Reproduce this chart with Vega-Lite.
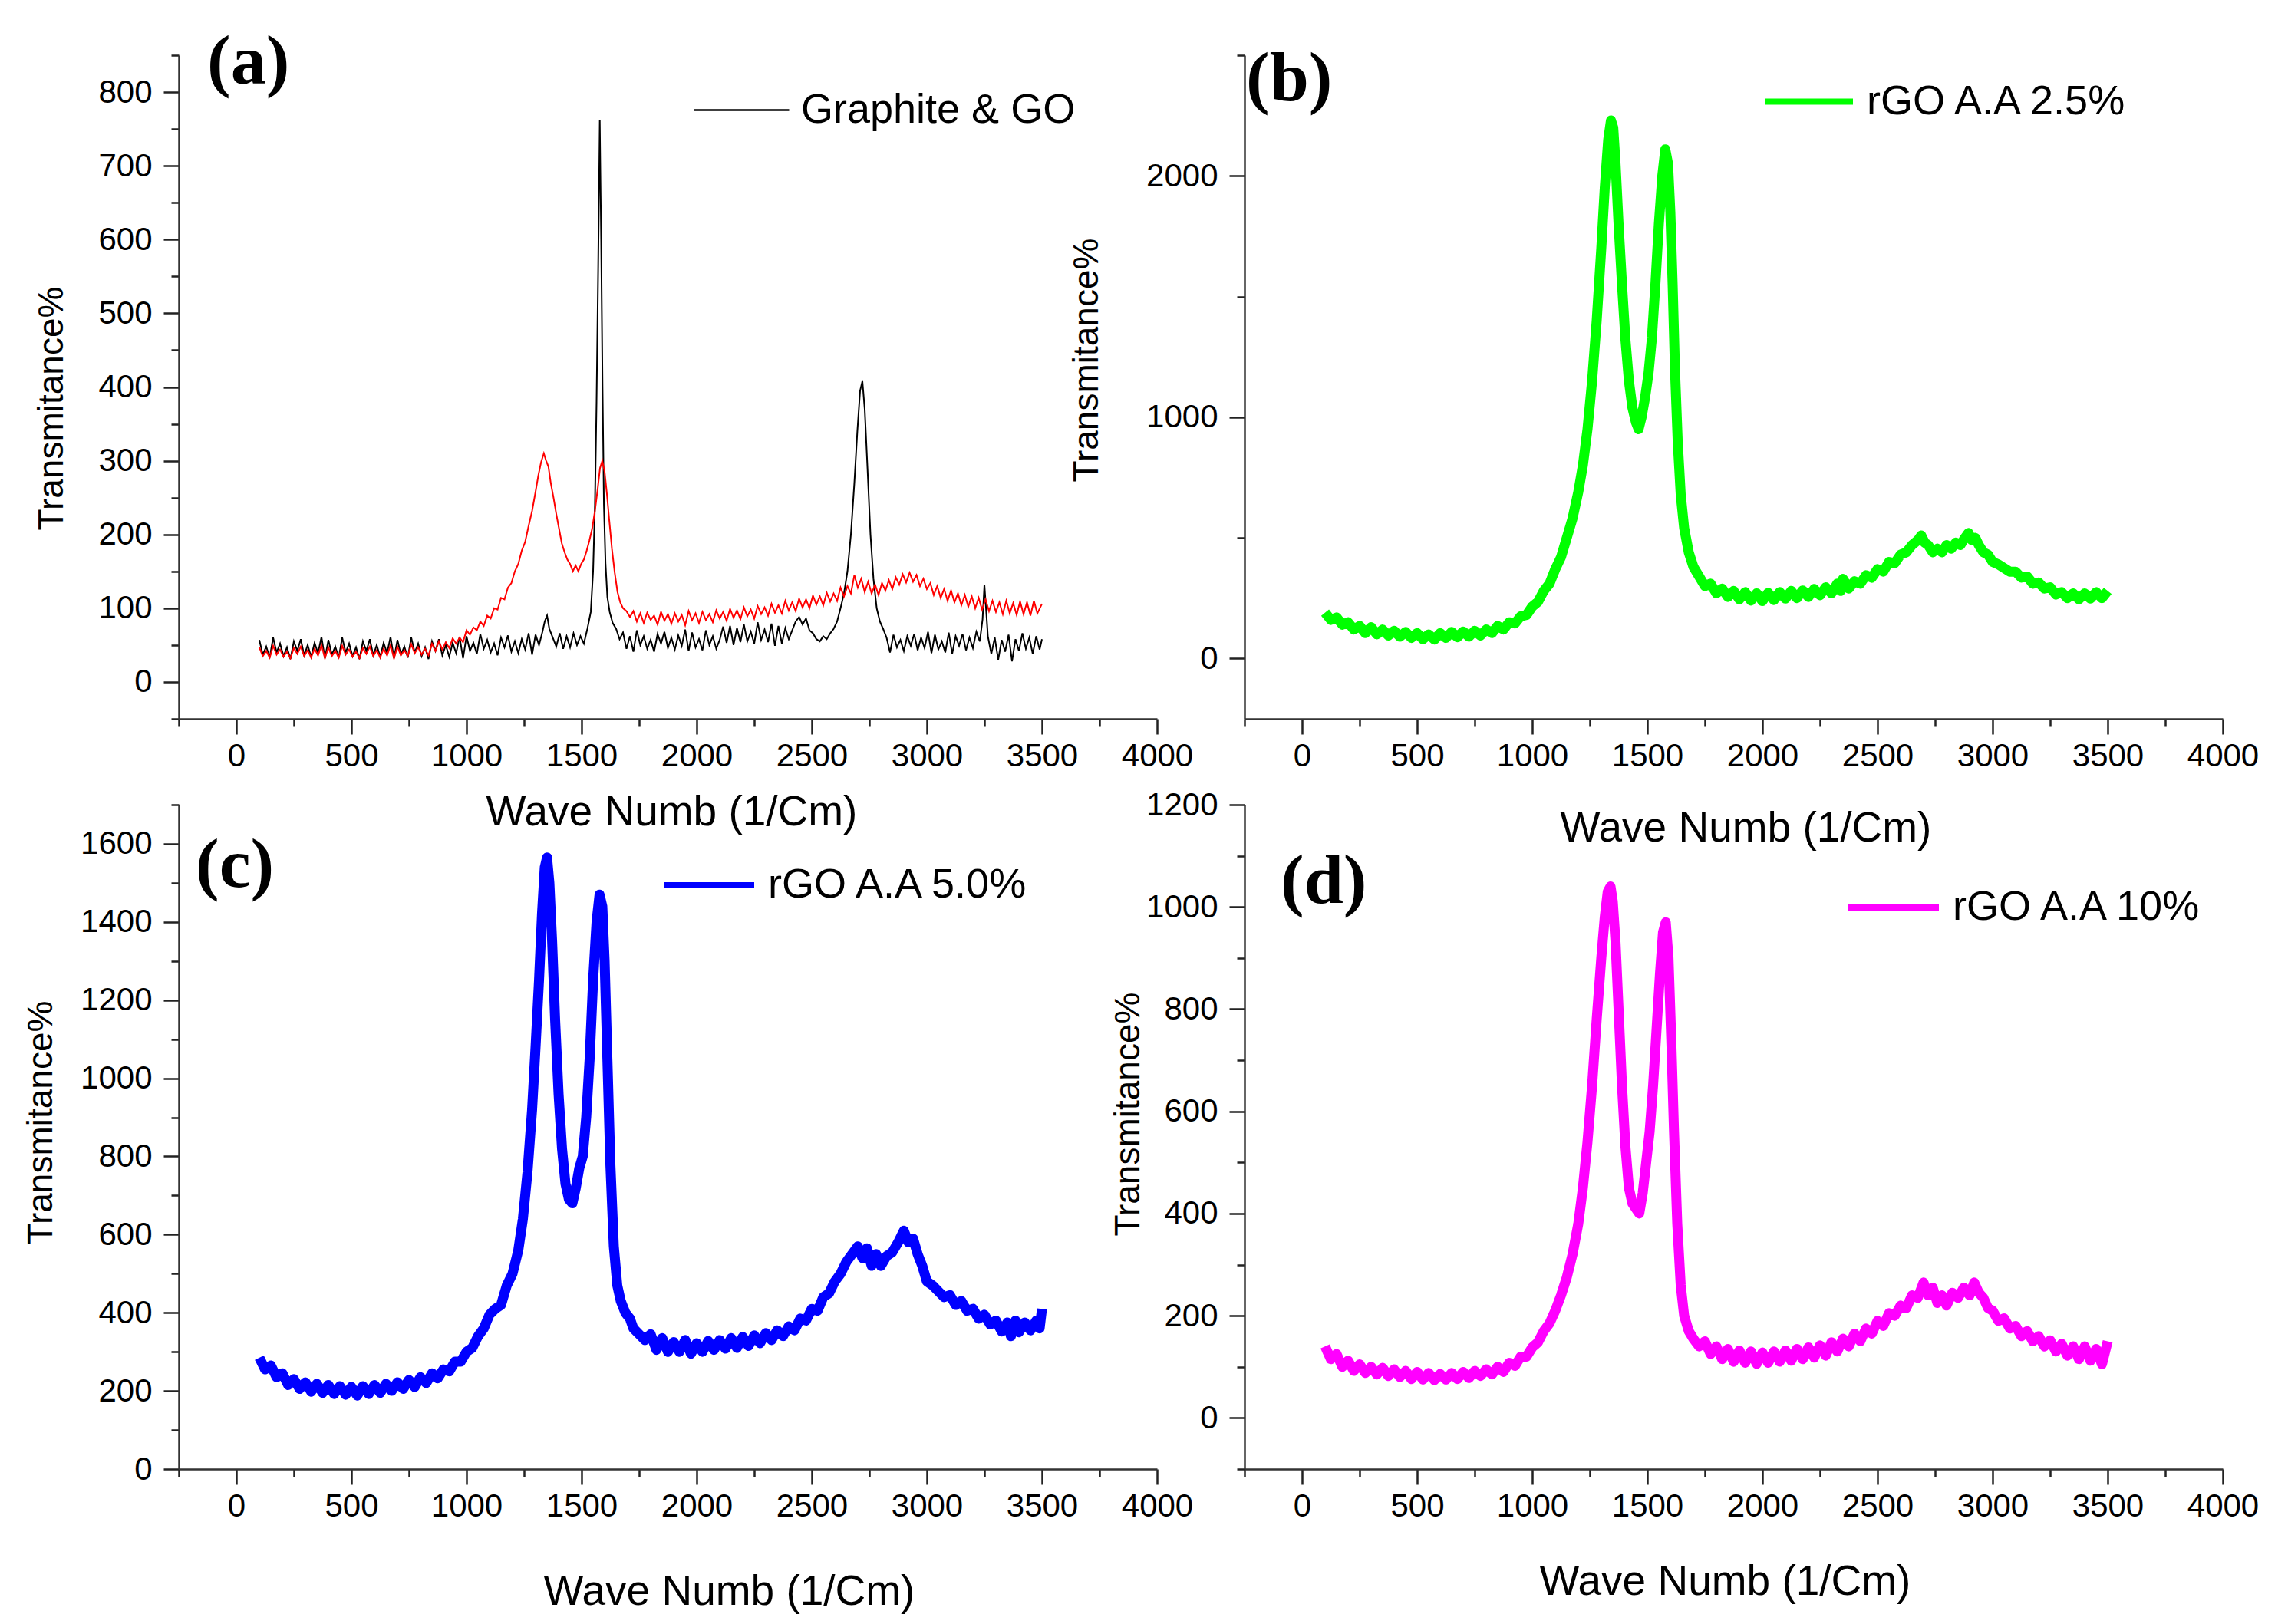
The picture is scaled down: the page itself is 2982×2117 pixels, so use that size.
{
  "$schema": "https://vega.github.io/schema/vega-lite/v6.json",
  "background": "white",
  "padding": {"left": 30, "top": 35, "right": 10, "bottom": 10},
  "config": {
    "font": "Liberation Sans",
    "view": {"stroke": null},
    "axis": {
      "grid": false,
      "domainColor": "#333333",
      "domainWidth": 2.5,
      "tickColor": "#222222",
      "tickWidth": 2.5,
      "labelFont": "Liberation Sans",
      "labelFontSize": 42,
      "labelColor": "black",
      "labelOverlap": false,
      "labelFlush": false,
      "format": "d",
      "titleFont": "Liberation Sans",
      "titleFontWeight": "normal",
      "titleColor": "black",
      "titleAlign": "center",
      "titleBaseline": "middle"
    },
    "axisX": {"labelPadding": 8, "titleFontSize": 55},
    "axisY": {"labelPadding": 15, "titleFontSize": 46, "titleAngle": 270},
    "legend": {
      "orient": "none",
      "symbolType": "stroke",
      "labelFont": "Liberation Sans",
      "labelFontSize": 54,
      "labelColor": "black",
      "labelOffset": 14,
      "labelLimit": 0,
      "padding": 0,
      "title": null
    },
    "title": {
      "font": "Liberation Serif",
      "fontWeight": "bold",
      "fontSize": 92,
      "color": "black",
      "anchor": "start",
      "frame": "group",
      "baseline": "alphabetic",
      "orient": "top"
    }
  },
  "datasets": {
    "graphite": [
      {"x":100,"y":57},{"x":115,"y":37},{"x":130,"y":48},{"x":145,"y":33},{"x":160,"y":60},{"x":175,"y":40},{"x":190,"y":52},{"x":205,"y":35},{"x":220,"y":47},{"x":235,"y":31},{"x":250,"y":55},{"x":265,"y":42},{"x":280,"y":58},{"x":295,"y":36},{"x":310,"y":50},{"x":325,"y":34},{"x":340,"y":53},{"x":355,"y":39},{"x":370,"y":61},{"x":385,"y":32},
      {"x":400,"y":57},{"x":415,"y":37},{"x":430,"y":48},{"x":445,"y":33},{"x":460,"y":60},{"x":475,"y":40},{"x":490,"y":52},{"x":505,"y":35},{"x":520,"y":47},{"x":535,"y":31},{"x":550,"y":55},{"x":565,"y":42},{"x":580,"y":58},{"x":595,"y":36},{"x":610,"y":50},{"x":625,"y":34},{"x":640,"y":53},{"x":655,"y":39},{"x":670,"y":61},{"x":685,"y":32},
      {"x":700,"y":57},{"x":715,"y":37},{"x":730,"y":48},{"x":745,"y":33},{"x":760,"y":60},{"x":775,"y":40},{"x":790,"y":52},{"x":805,"y":35},{"x":820,"y":47},{"x":835,"y":31},{"x":850,"y":55},{"x":865,"y":42},{"x":880,"y":58},{"x":895,"y":36},{"x":910,"y":50},{"x":925,"y":34},{"x":940,"y":53},{"x":955,"y":39},{"x":970,"y":61},{"x":985,"y":32},
      {"x":1000,"y":62},{"x":1015,"y":42},{"x":1030,"y":53},{"x":1045,"y":38},{"x":1060,"y":65},{"x":1075,"y":45},{"x":1090,"y":57},{"x":1105,"y":40},{"x":1120,"y":52},{"x":1135,"y":36},{"x":1150,"y":60},{"x":1165,"y":47},{"x":1180,"y":63},{"x":1195,"y":41},{"x":1210,"y":55},{"x":1225,"y":39},{"x":1240,"y":58},{"x":1255,"y":44},{"x":1270,"y":66},{"x":1285,"y":37},
      {"x":1300,"y":64},{"x":1315,"y":50},{"x":1330,"y":68},{"x":1340,"y":82},{"x":1350,"y":90},{"x":1360,"y":72},{"x":1375,"y":60},{"x":1390,"y":48},{"x":1405,"y":66},{"x":1420,"y":45},{"x":1435,"y":62},{"x":1450,"y":47},{"x":1465,"y":66},{"x":1480,"y":50},{"x":1495,"y":62},{"x":1510,"y":52},{"x":1525,"y":72},{"x":1540,"y":95},{"x":1550,"y":150},{"x":1558,"y":240},
      {"x":1565,"y":380},{"x":1572,"y":560},{"x":1579,"y":762},{"x":1585,"y":600},{"x":1591,"y":400},{"x":1597,"y":240},{"x":1604,"y":160},{"x":1612,"y":115},{"x":1622,"y":95},{"x":1635,"y":80},{"x":1650,"y":72},{"x":1665,"y":58},{"x":1680,"y":67},{"x":1695,"y":45},{"x":1710,"y":62},{"x":1725,"y":41},{"x":1740,"y":70},{"x":1755,"y":50},{"x":1770,"y":62},{"x":1785,"y":45},
      {"x":1800,"y":57},{"x":1815,"y":41},{"x":1830,"y":65},{"x":1845,"y":52},{"x":1860,"y":68},{"x":1875,"y":46},{"x":1890,"y":60},{"x":1905,"y":44},{"x":1920,"y":63},{"x":1935,"y":49},{"x":1950,"y":71},{"x":1965,"y":42},{"x":1980,"y":67},{"x":1995,"y":47},{"x":2010,"y":58},{"x":2025,"y":43},{"x":2040,"y":70},{"x":2055,"y":50},{"x":2070,"y":62},{"x":2085,"y":45},
      {"x":2100,"y":57},{"x":2115,"y":75},{"x":2130,"y":53},{"x":2145,"y":76},{"x":2160,"y":50},{"x":2175,"y":73},{"x":2190,"y":54},{"x":2205,"y":78},{"x":2220,"y":55},{"x":2235,"y":68},{"x":2250,"y":52},{"x":2265,"y":81},{"x":2280,"y":57},{"x":2295,"y":71},{"x":2310,"y":54},{"x":2325,"y":79},{"x":2340,"y":49},{"x":2355,"y":76},{"x":2370,"y":52},{"x":2385,"y":73},
      {"x":2400,"y":58},{"x":2415,"y":70},{"x":2430,"y":82},{"x":2445,"y":88},{"x":2460,"y":78},{"x":2475,"y":86},{"x":2490,"y":70},{"x":2505,"y":66},{"x":2520,"y":58},{"x":2535,"y":55},{"x":2550,"y":62},{"x":2565,"y":58},{"x":2580,"y":66},{"x":2595,"y":72},{"x":2610,"y":82},{"x":2625,"y":100},{"x":2640,"y":120},{"x":2655,"y":150},{"x":2670,"y":200},{"x":2685,"y":270},
      {"x":2698,"y":340},{"x":2710,"y":395},{"x":2720,"y":408},{"x":2730,"y":370},{"x":2742,"y":290},{"x":2755,"y":200},{"x":2768,"y":140},{"x":2782,"y":100},{"x":2796,"y":82},{"x":2810,"y":72},{"x":2825,"y":60},{"x":2840,"y":40},{"x":2855,"y":64},{"x":2870,"y":47},{"x":2885,"y":57},{"x":2900,"y":42},{"x":2915,"y":62},{"x":2930,"y":49},{"x":2945,"y":65},{"x":2960,"y":43},
      {"x":2975,"y":60},{"x":2990,"y":46},{"x":3005,"y":68},{"x":3020,"y":39},{"x":3035,"y":64},{"x":3050,"y":44},{"x":3065,"y":55},{"x":3080,"y":40},{"x":3095,"y":67},{"x":3110,"y":38},{"x":3125,"y":62},{"x":3140,"y":49},{"x":3155,"y":65},{"x":3170,"y":43},{"x":3185,"y":60},{"x":3200,"y":46},{"x":3215,"y":68},{"x":3230,"y":55},{"x":3242,"y":85},{"x":3250,"y":132},
      {"x":3257,"y":100},{"x":3265,"y":62},{"x":3280,"y":38},{"x":3295,"y":60},{"x":3310,"y":30},{"x":3325,"y":57},{"x":3340,"y":41},{"x":3355,"y":64},{"x":3370,"y":28},{"x":3385,"y":58},{"x":3400,"y":42},{"x":3415,"y":66},{"x":3430,"y":45},{"x":3445,"y":60},{"x":3460,"y":38},{"x":3475,"y":62},{"x":3490,"y":44},{"x":3500,"y":58}
    ],
    "go": [
      {"x":100,"y":47},{"x":115,"y":35},{"x":130,"y":42},{"x":145,"y":33},{"x":160,"y":49},{"x":175,"y":37},{"x":190,"y":44},{"x":205,"y":34},{"x":220,"y":41},{"x":235,"y":32},{"x":250,"y":46},{"x":265,"y":38},{"x":280,"y":48},{"x":295,"y":35},{"x":310,"y":43},{"x":325,"y":33},{"x":340,"y":45},{"x":355,"y":36},{"x":370,"y":50},{"x":385,"y":32},
      {"x":400,"y":47},{"x":415,"y":35},{"x":430,"y":42},{"x":445,"y":33},{"x":460,"y":49},{"x":475,"y":37},{"x":490,"y":44},{"x":505,"y":34},{"x":520,"y":41},{"x":535,"y":32},{"x":550,"y":46},{"x":565,"y":38},{"x":580,"y":48},{"x":595,"y":35},{"x":610,"y":43},{"x":625,"y":33},{"x":640,"y":45},{"x":655,"y":36},{"x":670,"y":50},{"x":685,"y":32},
      {"x":700,"y":48},{"x":715,"y":36},{"x":730,"y":43},{"x":745,"y":35},{"x":760,"y":51},{"x":775,"y":39},{"x":790,"y":47},{"x":805,"y":37},{"x":820,"y":45},{"x":835,"y":36},{"x":850,"y":52},{"x":865,"y":42},{"x":880,"y":55},{"x":895,"y":44},{"x":910,"y":54},{"x":925,"y":46},{"x":940,"y":59},{"x":955,"y":52},{"x":970,"y":60},{"x":985,"y":54},
      {"x":1000,"y":70},{"x":1015,"y":64},{"x":1030,"y":74},{"x":1045,"y":70},{"x":1060,"y":82},{"x":1075,"y":76},{"x":1090,"y":90},{"x":1105,"y":86},{"x":1120,"y":100},{"x":1135,"y":98},{"x":1150,"y":114},{"x":1165,"y":112},{"x":1180,"y":128},{"x":1195,"y":134},{"x":1210,"y":150},{"x":1225,"y":160},{"x":1240,"y":178},{"x":1255,"y":190},{"x":1270,"y":212},{"x":1285,"y":232},
      {"x":1300,"y":258},{"x":1312,"y":280},{"x":1324,"y":298},{"x":1336,"y":310},{"x":1346,"y":300},{"x":1356,"y":292},{"x":1366,"y":270},{"x":1378,"y":250},{"x":1390,"y":228},{"x":1402,"y":208},{"x":1414,"y":188},{"x":1426,"y":176},{"x":1438,"y":166},{"x":1450,"y":160},{"x":1462,"y":150},{"x":1474,"y":158},{"x":1486,"y":150},{"x":1498,"y":160},{"x":1510,"y":166},{"x":1522,"y":178},
      {"x":1534,"y":192},{"x":1546,"y":208},{"x":1558,"y":232},{"x":1570,"y":262},{"x":1580,"y":290},{"x":1590,"y":300},{"x":1600,"y":285},{"x":1610,"y":255},{"x":1620,"y":220},{"x":1632,"y":180},{"x":1644,"y":148},{"x":1656,"y":122},{"x":1668,"y":108},{"x":1680,"y":100},{"x":1695,"y":96},{"x":1710,"y":88},{"x":1725,"y":96},{"x":1740,"y":82},{"x":1755,"y":93},{"x":1770,"y":80},
      {"x":1785,"y":94},{"x":1800,"y":84},{"x":1815,"y":90},{"x":1830,"y":78},{"x":1845,"y":95},{"x":1860,"y":83},{"x":1875,"y":92},{"x":1890,"y":79},{"x":1905,"y":93},{"x":1920,"y":82},{"x":1935,"y":91},{"x":1950,"y":77},{"x":1965,"y":96},{"x":1980,"y":84},{"x":1995,"y":93},{"x":2010,"y":80},{"x":2025,"y":95},{"x":2040,"y":84},{"x":2055,"y":92},{"x":2070,"y":81},
      {"x":2085,"y":97},{"x":2100,"y":86},{"x":2115,"y":95},{"x":2130,"y":83},{"x":2145,"y":99},{"x":2160,"y":87},{"x":2175,"y":97},{"x":2190,"y":85},{"x":2205,"y":101},{"x":2220,"y":89},{"x":2235,"y":98},{"x":2250,"y":86},{"x":2265,"y":103},{"x":2280,"y":92},{"x":2295,"y":101},{"x":2310,"y":90},{"x":2325,"y":106},{"x":2340,"y":94},{"x":2355,"y":104},{"x":2370,"y":93},
      {"x":2385,"y":110},{"x":2400,"y":97},{"x":2415,"y":108},{"x":2430,"y":96},{"x":2445,"y":113},{"x":2460,"y":101},{"x":2475,"y":112},{"x":2490,"y":100},{"x":2505,"y":117},{"x":2520,"y":105},{"x":2535,"y":116},{"x":2550,"y":104},{"x":2565,"y":121},{"x":2580,"y":109},{"x":2595,"y":120},{"x":2610,"y":110},{"x":2625,"y":128},{"x":2640,"y":116},{"x":2655,"y":130},{"x":2670,"y":120},
      {"x":2685,"y":145},{"x":2700,"y":128},{"x":2715,"y":140},{"x":2730,"y":122},{"x":2745,"y":136},{"x":2760,"y":120},{"x":2775,"y":132},{"x":2790,"y":118},{"x":2805,"y":134},{"x":2820,"y":124},{"x":2835,"y":138},{"x":2850,"y":126},{"x":2865,"y":142},{"x":2880,"y":132},{"x":2895,"y":146},{"x":2910,"y":135},{"x":2925,"y":148},{"x":2940,"y":136},{"x":2955,"y":145},{"x":2970,"y":130},
      {"x":2985,"y":140},{"x":3000,"y":126},{"x":3015,"y":134},{"x":3030,"y":118},{"x":3045,"y":130},{"x":3060,"y":114},{"x":3075,"y":126},{"x":3090,"y":110},{"x":3105,"y":124},{"x":3120,"y":108},{"x":3135,"y":120},{"x":3150,"y":104},{"x":3165,"y":118},{"x":3180,"y":102},{"x":3195,"y":116},{"x":3210,"y":100},{"x":3225,"y":114},{"x":3240,"y":98},{"x":3255,"y":112},{"x":3270,"y":96},
      {"x":3285,"y":110},{"x":3300,"y":95},{"x":3315,"y":108},{"x":3330,"y":92},{"x":3345,"y":110},{"x":3360,"y":93},{"x":3375,"y":107},{"x":3390,"y":91},{"x":3405,"y":109},{"x":3420,"y":92},{"x":3435,"y":108},{"x":3450,"y":90},{"x":3465,"y":110},{"x":3480,"y":93},{"x":3500,"y":106}
    ],
    "rgo25": [
      {"x":100,"y":190},{"x":125,"y":160},{"x":150,"y":170},{"x":175,"y":140},{"x":200,"y":150},{"x":225,"y":120},{"x":250,"y":135},{"x":275,"y":105},{"x":300,"y":130},{"x":325,"y":100},{"x":350,"y":120},{"x":375,"y":95},{"x":400,"y":115},{"x":425,"y":90},{"x":450,"y":110},{"x":475,"y":85},{"x":500,"y":105},{"x":525,"y":80},{"x":550,"y":100},{"x":575,"y":78},{"x":600,"y":105},{"x":625,"y":85},{"x":650,"y":110},{"x":675,"y":88},{"x":700,"y":112},{"x":725,"y":90},{"x":750,"y":115},{"x":775,"y":95},{"x":800,"y":120},{"x":825,"y":105},{"x":850,"y":135},{"x":875,"y":120},{"x":900,"y":150},{"x":925,"y":145},{"x":950,"y":175},{"x":975,"y":180},{"x":1000,"y":215},{"x":1025,"y":235},{"x":1050,"y":280},{"x":1075,"y":310},{"x":1100,"y":370},{"x":1125,"y":420},{"x":1150,"y":500},{"x":1175,"y":580},{"x":1200,"y":690},{"x":1220,"y":800},{"x":1240,"y":950},{"x":1260,"y":1150},{"x":1280,"y":1400},{"x":1300,"y":1700},{"x":1315,"y":1950},{"x":1330,"y":2150},{"x":1342,"y":2230},{"x":1352,"y":2200},{"x":1362,"y":2050},{"x":1375,"y":1800},{"x":1390,"y":1550},{"x":1405,"y":1320},{"x":1420,"y":1150},{"x":1435,"y":1040},{"x":1450,"y":980},{"x":1462,"y":950},{"x":1475,"y":1000},{"x":1490,"y":1080},{"x":1505,"y":1180},{"x":1520,"y":1330},{"x":1535,"y":1550},{"x":1550,"y":1800},{"x":1565,"y":2000},{"x":1578,"y":2110},{"x":1590,"y":2050},{"x":1600,"y":1850},{"x":1610,"y":1550},{"x":1620,"y":1200},{"x":1632,"y":900},{"x":1645,"y":680},{"x":1660,"y":540},{"x":1680,"y":440},{"x":1700,"y":380},{"x":1725,"y":340},{"x":1750,"y":300},{"x":1775,"y":310},{"x":1800,"y":270},{"x":1825,"y":290},{"x":1850,"y":255},{"x":1875,"y":280},{"x":1900,"y":245},{"x":1925,"y":275},{"x":1950,"y":240},{"x":1975,"y":270},{"x":2000,"y":238},{"x":2025,"y":272},{"x":2050,"y":242},{"x":2075,"y":275},{"x":2100,"y":248},{"x":2125,"y":280},{"x":2150,"y":250},{"x":2175,"y":282},{"x":2200,"y":255},{"x":2225,"y":288},{"x":2250,"y":262},{"x":2275,"y":295},{"x":2300,"y":270},{"x":2325,"y":310},{"x":2340,"y":280},{"x":2350,"y":330},{"x":2375,"y":290},{"x":2400,"y":320},{"x":2425,"y":310},{"x":2450,"y":345},{"x":2475,"y":335},{"x":2500,"y":370},{"x":2525,"y":360},{"x":2550,"y":400},{"x":2575,"y":395},{"x":2600,"y":430},{"x":2625,"y":440},{"x":2650,"y":470},{"x":2675,"y":490},{"x":2690,"y":510},{"x":2705,"y":480},{"x":2720,"y":470},{"x":2740,"y":440},{"x":2760,"y":455},{"x":2780,"y":440},{"x":2800,"y":470},{"x":2820,"y":455},{"x":2840,"y":480},{"x":2860,"y":470},{"x":2880,"y":500},{"x":2895,"y":520},{"x":2910,"y":490},{"x":2925,"y":500},{"x":2940,"y":470},{"x":2960,"y":440},{"x":2980,"y":430},{"x":3000,"y":400},{"x":3025,"y":390},{"x":3050,"y":375},{"x":3075,"y":360},{"x":3100,"y":360},{"x":3125,"y":335},{"x":3150,"y":340},{"x":3175,"y":310},{"x":3200,"y":315},{"x":3225,"y":290},{"x":3250,"y":295},{"x":3275,"y":265},{"x":3300,"y":275},{"x":3325,"y":250},{"x":3350,"y":270},{"x":3375,"y":245},{"x":3400,"y":270},{"x":3425,"y":248},{"x":3450,"y":275},{"x":3475,"y":250},{"x":3500,"y":280}
    ],
    "rgo50": [
      {"x":100,"y":285},{"x":125,"y":255},{"x":150,"y":265},{"x":175,"y":235},{"x":200,"y":245},{"x":225,"y":215},{"x":250,"y":230},{"x":275,"y":205},{"x":300,"y":222},{"x":325,"y":198},{"x":350,"y":218},{"x":375,"y":195},{"x":400,"y":215},{"x":425,"y":192},{"x":450,"y":212},{"x":475,"y":190},{"x":500,"y":210},{"x":525,"y":188},{"x":550,"y":212},{"x":575,"y":192},{"x":600,"y":215},{"x":625,"y":195},{"x":650,"y":218},{"x":675,"y":200},{"x":700,"y":222},{"x":725,"y":205},{"x":750,"y":228},{"x":775,"y":210},{"x":800,"y":235},{"x":825,"y":220},{"x":850,"y":245},{"x":875,"y":232},{"x":900,"y":255},{"x":925,"y":250},{"x":950,"y":275},{"x":975,"y":275},{"x":1000,"y":300},{"x":1025,"y":310},{"x":1050,"y":340},{"x":1075,"y":360},{"x":1100,"y":395},{"x":1125,"y":410},{"x":1150,"y":420},{"x":1175,"y":470},{"x":1200,"y":500},{"x":1225,"y":560},{"x":1245,"y":640},{"x":1265,"y":760},{"x":1285,"y":920},{"x":1300,"y":1080},{"x":1315,"y":1250},{"x":1328,"y":1420},{"x":1340,"y":1540},{"x":1350,"y":1565},{"x":1360,"y":1500},{"x":1372,"y":1350},{"x":1385,"y":1150},{"x":1400,"y":960},{"x":1415,"y":820},{"x":1430,"y":730},{"x":1445,"y":690},{"x":1460,"y":680},{"x":1475,"y":720},{"x":1490,"y":770},{"x":1505,"y":800},{"x":1520,"y":900},{"x":1535,"y":1050},{"x":1550,"y":1250},{"x":1565,"y":1400},{"x":1578,"y":1470},{"x":1590,"y":1440},{"x":1600,"y":1300},{"x":1612,"y":1050},{"x":1625,"y":780},{"x":1640,"y":570},{"x":1655,"y":470},{"x":1670,"y":430},{"x":1690,"y":400},{"x":1710,"y":385},{"x":1725,"y":360},{"x":1750,"y":345},{"x":1775,"y":330},{"x":1800,"y":345},{"x":1825,"y":305},{"x":1850,"y":335},{"x":1875,"y":300},{"x":1900,"y":325},{"x":1925,"y":300},{"x":1950,"y":330},{"x":1975,"y":295},{"x":2000,"y":322},{"x":2025,"y":300},{"x":2050,"y":328},{"x":2075,"y":305},{"x":2100,"y":330},{"x":2125,"y":308},{"x":2150,"y":335},{"x":2175,"y":310},{"x":2200,"y":338},{"x":2225,"y":315},{"x":2250,"y":342},{"x":2275,"y":322},{"x":2300,"y":348},{"x":2325,"y":330},{"x":2350,"y":355},{"x":2375,"y":340},{"x":2400,"y":365},{"x":2425,"y":355},{"x":2450,"y":385},{"x":2475,"y":380},{"x":2500,"y":410},{"x":2525,"y":405},{"x":2550,"y":440},{"x":2575,"y":450},{"x":2600,"y":480},{"x":2625,"y":500},{"x":2650,"y":530},{"x":2675,"y":550},{"x":2700,"y":570},{"x":2720,"y":540},{"x":2740,"y":565},{"x":2760,"y":520},{"x":2780,"y":550},{"x":2800,"y":520},{"x":2825,"y":545},{"x":2850,"y":555},{"x":2875,"y":580},{"x":2900,"y":610},{"x":2920,"y":580},{"x":2940,"y":590},{"x":2960,"y":550},{"x":2980,"y":520},{"x":3000,"y":480},{"x":3025,"y":470},{"x":3050,"y":455},{"x":3075,"y":440},{"x":3100,"y":445},{"x":3125,"y":420},{"x":3150,"y":430},{"x":3175,"y":405},{"x":3200,"y":410},{"x":3225,"y":385},{"x":3250,"y":395},{"x":3275,"y":370},{"x":3300,"y":380},{"x":3325,"y":352},{"x":3350,"y":375},{"x":3365,"y":340},{"x":3385,"y":380},{"x":3400,"y":350},{"x":3425,"y":375},{"x":3450,"y":355},{"x":3475,"y":380},{"x":3490,"y":360},{"x":3500,"y":410}
    ],
    "rgo10": [
      {"x":100,"y":140},{"x":125,"y":115},{"x":150,"y":125},{"x":175,"y":100},{"x":200,"y":112},{"x":225,"y":92},{"x":250,"y":105},{"x":275,"y":88},{"x":300,"y":100},{"x":325,"y":85},{"x":350,"y":98},{"x":375,"y":82},{"x":400,"y":95},{"x":425,"y":80},{"x":450,"y":92},{"x":475,"y":76},{"x":500,"y":90},{"x":525,"y":75},{"x":550,"y":88},{"x":575,"y":74},{"x":600,"y":86},{"x":625,"y":75},{"x":650,"y":88},{"x":675,"y":76},{"x":700,"y":90},{"x":725,"y":78},{"x":750,"y":92},{"x":775,"y":82},{"x":800,"y":95},{"x":825,"y":85},{"x":850,"y":100},{"x":875,"y":90},{"x":900,"y":108},{"x":925,"y":102},{"x":950,"y":120},{"x":975,"y":120},{"x":1000,"y":138},{"x":1025,"y":148},{"x":1050,"y":170},{"x":1075,"y":185},{"x":1100,"y":210},{"x":1125,"y":240},{"x":1150,"y":275},{"x":1175,"y":320},{"x":1200,"y":380},{"x":1220,"y":450},{"x":1240,"y":540},{"x":1260,"y":650},{"x":1280,"y":780},{"x":1300,"y":900},{"x":1315,"y":980},{"x":1328,"y":1030},{"x":1340,"y":1040},{"x":1350,"y":1010},{"x":1362,"y":930},{"x":1375,"y":800},{"x":1390,"y":650},{"x":1405,"y":530},{"x":1420,"y":450},{"x":1435,"y":420},{"x":1450,"y":410},{"x":1465,"y":400},{"x":1480,"y":440},{"x":1495,"y":500},{"x":1510,"y":560},{"x":1525,"y":650},{"x":1540,"y":760},{"x":1555,"y":870},{"x":1568,"y":950},{"x":1580,"y":970},{"x":1592,"y":900},{"x":1604,"y":740},{"x":1616,"y":560},{"x":1630,"y":380},{"x":1645,"y":260},{"x":1660,"y":200},{"x":1680,"y":170},{"x":1700,"y":155},{"x":1725,"y":140},{"x":1750,"y":150},{"x":1775,"y":125},{"x":1800,"y":140},{"x":1825,"y":115},{"x":1850,"y":135},{"x":1875,"y":110},{"x":1900,"y":132},{"x":1925,"y":108},{"x":1950,"y":130},{"x":1975,"y":106},{"x":2000,"y":128},{"x":2025,"y":108},{"x":2050,"y":130},{"x":2075,"y":110},{"x":2100,"y":132},{"x":2125,"y":112},{"x":2150,"y":135},{"x":2175,"y":115},{"x":2200,"y":138},{"x":2225,"y":118},{"x":2250,"y":142},{"x":2275,"y":122},{"x":2300,"y":148},{"x":2325,"y":130},{"x":2350,"y":155},{"x":2375,"y":140},{"x":2400,"y":165},{"x":2425,"y":150},{"x":2450,"y":175},{"x":2475,"y":165},{"x":2500,"y":190},{"x":2525,"y":180},{"x":2550,"y":205},{"x":2575,"y":200},{"x":2600,"y":220},{"x":2625,"y":215},{"x":2650,"y":240},{"x":2675,"y":235},{"x":2700,"y":265},{"x":2720,"y":240},{"x":2740,"y":255},{"x":2760,"y":225},{"x":2780,"y":240},{"x":2800,"y":220},{"x":2825,"y":245},{"x":2850,"y":235},{"x":2875,"y":255},{"x":2900,"y":240},{"x":2920,"y":265},{"x":2940,"y":245},{"x":2960,"y":235},{"x":2980,"y":215},{"x":3000,"y":210},{"x":3025,"y":190},{"x":3050,"y":195},{"x":3075,"y":175},{"x":3100,"y":180},{"x":3125,"y":160},{"x":3150,"y":170},{"x":3175,"y":150},{"x":3200,"y":160},{"x":3225,"y":140},{"x":3250,"y":152},{"x":3275,"y":130},{"x":3300,"y":145},{"x":3325,"y":122},{"x":3350,"y":140},{"x":3375,"y":115},{"x":3400,"y":140},{"x":3425,"y":112},{"x":3450,"y":135},{"x":3475,"y":105},{"x":3500,"y":150}
    ]
  },
  "columns": 2,
  "bounds": "flush",
  "spacing": {"row": 112, "column": 114},
  "resolve": {"scale": {"color": "independent"}, "legend": {"color": "independent"}},
  "concat": [
    {
      "width": 1275,
      "height": 865,
      "title": {"text": "(a)", "dx": 37, "offset": -77},
      "encoding": {
        "x": {"field": "x", "type": "quantitative", "scale": {"domain": [-250, 4000], "nice": false, "zero": false},
          "axis": {"title": "Wave Numb (1/Cm)", "titleX": 642, "titleY": 121,
            "values": [-250,0,250,500,750,1000,1250,1500,1750,2000,2250,2500,2750,3000,3250,3500,3750,4000],
            "labelExpr": "datum.value % 500 === 0 ? datum.label : ''",
            "tickSize": {"condition": {"test": "datum.value % 500 === 0", "value": 20}, "value": 10}}},
        "y": {"field": "y", "type": "quantitative", "scale": {"domain": [-50, 850], "nice": false, "zero": false},
          "axis": {"title": "Transmitance%", "titleX": -166, "titleY": 460,
            "values": [-50,0,50,100,150,200,250,300,350,400,450,500,550,600,650,700,750,800,850],
            "labelExpr": "datum.value % 100 === 0 ? datum.label : ''",
            "tickSize": {"condition": {"test": "datum.value % 100 === 0", "value": 20}, "value": 10}}}
      },
      "layer": [
        {
          "data": {"name": "graphite"},
          "mark": {"type": "line", "strokeWidth": 2},
          "encoding": {"color": {"datum": "Graphite & GO", "scale": {"range": ["#000000"]},
            "legend": {"legendX": 670, "legendY": 8, "symbolSize": 15376, "symbolStrokeWidth": 2.5}}}
        },
        {
          "data": {"name": "go"},
          "mark": {"type": "line", "strokeWidth": 2, "color": "#ff0000"},
          "encoding": {}
        }
      ]
    },
    {
      "width": 1275,
      "height": 865,
      "title": {"text": "(b)", "dx": 2, "offset": -99},
      "data": {"name": "rgo25"},
      "mark": {"type": "line", "strokeWidth": 13, "strokeJoin": "round"},
      "encoding": {
        "x": {"field": "x", "type": "quantitative", "scale": {"domain": [-250, 4000], "nice": false, "zero": false},
          "axis": {"title": "Wave Numb (1/Cm)", "titleX": 653, "titleY": 142,
            "values": [-250,0,250,500,750,1000,1250,1500,1750,2000,2250,2500,2750,3000,3250,3500,3750,4000],
            "labelExpr": "datum.value % 500 === 0 ? datum.label : ''",
            "tickSize": {"condition": {"test": "datum.value % 500 === 0", "value": 20}, "value": 10}}},
        "y": {"field": "y", "type": "quantitative", "scale": {"domain": [-250, 2500], "nice": false, "zero": false},
          "axis": {"title": "Transmitance%", "titleX": -206, "titleY": 397,
            "values": [0,500,1000,1500,2000,2500],
            "labelExpr": "datum.value % 1000 === 0 ? datum.label : ''",
            "tickSize": {"condition": {"test": "datum.value % 1000 === 0", "value": 20}, "value": 10}}},
        "color": {"datum": "rGO A.A 2.5%", "scale": {"range": ["#00ff00"]},
          "legend": {"legendX": 674, "legendY": -1, "symbolSize": 13225, "symbolStrokeWidth": 8}}
      }
    },
    {
      "width": 1275,
      "height": 866,
      "title": {"text": "(c)", "dx": 22, "offset": -147},
      "data": {"name": "rgo50"},
      "mark": {"type": "line", "strokeWidth": 13, "strokeJoin": "round"},
      "encoding": {
        "x": {"field": "x", "type": "quantitative", "scale": {"domain": [-250, 4000], "nice": false, "zero": false},
          "axis": {"title": "Wave Numb (1/Cm)", "titleX": 717, "titleY": 159,
            "values": [-250,0,250,500,750,1000,1250,1500,1750,2000,2250,2500,2750,3000,3250,3500,3750,4000],
            "labelExpr": "datum.value % 500 === 0 ? datum.label : ''",
            "tickSize": {"condition": {"test": "datum.value % 500 === 0", "value": 20}, "value": 10}}},
        "y": {"field": "y", "type": "quantitative", "scale": {"domain": [0, 1700], "nice": false, "zero": false},
          "axis": {"title": "Transmitance%", "titleX": -180, "titleY": 414,
            "values": [0,100,200,300,400,500,600,700,800,900,1000,1100,1200,1300,1400,1500,1600,1700],
            "labelExpr": "datum.value % 200 === 0 ? datum.label : ''",
            "tickSize": {"condition": {"test": "datum.value % 200 === 0", "value": 20}, "value": 10}}},
        "color": {"datum": "rGO A.A 5.0%", "scale": {"range": ["#0000ff"]},
          "legend": {"legendX": 628, "legendY": 42, "symbolSize": 13924, "symbolStrokeWidth": 8}}
      }
    },
    {
      "width": 1275,
      "height": 866,
      "title": {"text": "(d)", "dx": 47, "offset": -168},
      "data": {"name": "rgo10"},
      "mark": {"type": "line", "strokeWidth": 13, "strokeJoin": "round"},
      "encoding": {
        "x": {"field": "x", "type": "quantitative", "scale": {"domain": [-250, 4000], "nice": false, "zero": false},
          "axis": {"title": "Wave Numb (1/Cm)", "titleX": 626, "titleY": 146,
            "values": [-250,0,250,500,750,1000,1250,1500,1750,2000,2250,2500,2750,3000,3250,3500,3750,4000],
            "labelExpr": "datum.value % 500 === 0 ? datum.label : ''",
            "tickSize": {"condition": {"test": "datum.value % 500 === 0", "value": 20}, "value": 10}}},
        "y": {"field": "y", "type": "quantitative", "scale": {"domain": [-100, 1200], "nice": false, "zero": false},
          "axis": {"title": "Transmitance%", "titleX": -152, "titleY": 403,
            "values": [-100,0,100,200,300,400,500,600,700,800,900,1000,1100,1200],
            "labelExpr": "datum.value % 200 === 0 ? datum.label : ''",
            "tickSize": {"condition": {"test": "datum.value % 200 === 0", "value": 20}, "value": 10}}},
        "color": {"datum": "rGO A.A 10%", "scale": {"range": ["#ff00ff"]},
          "legend": {"legendX": 783, "legendY": 71, "symbolSize": 13924, "symbolStrokeWidth": 8}}
      }
    }
  ]
}
